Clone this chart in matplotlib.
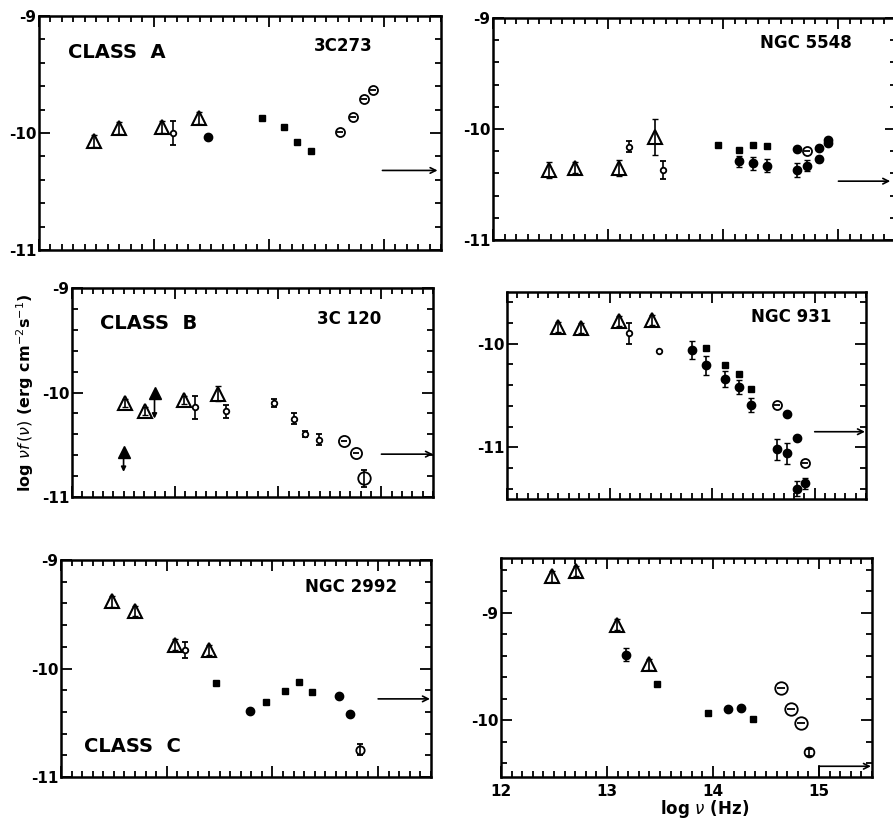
import numpy as np
import matplotlib
matplotlib.use("Agg")
import matplotlib.pyplot as plt
from matplotlib.ticker import MultipleLocator, FixedLocator

# ---- 3C273 (class A)
a_tri_x = [12.48, 12.70, 13.07, 13.39]
a_tri_y = [-10.07, -9.96, -9.95, -9.87]
a_sm_x = [13.17]
a_sm_y = [-10.00]
a_sm_e = [0.10]
a_sq_x = [13.94, 14.13, 14.25, 14.37]
a_sq_y = [-9.87, -9.95, -10.08, -10.15]
a_dot_x = [13.47]
a_dot_y = [-10.03]
a_th_x = [14.62, 14.73, 14.83, 14.91]
a_th_y = [-9.99, -9.86, -9.71, -9.63]
a_arrow = [14.99, 15.47, -10.32]

# ---- NGC 5548
b_tri_x = [12.49, 12.71, 13.09, 13.41]
b_tri_y = [-10.37, -10.35, -10.35, -10.07]
b_tri_e = [0.07, 0.05, 0.07, 0.16]
b_sm_x = [13.18, 13.48]
b_sm_y = [-10.16, -10.37]
b_sm_e = [0.05, 0.08]
b_sq_x = [13.95, 14.14, 14.26, 14.38]
b_sq_y = [-10.14, -10.19, -10.14, -10.15]
b_dote_x = [14.14, 14.26, 14.38, 14.64, 14.73, 14.83]
b_dote_y = [-10.29, -10.31, -10.33, -10.37, -10.33, -10.27]
b_dote_e = [0.05, 0.06, 0.06, 0.06, 0.05, 0.03]
b_dot_x = [14.64, 14.83, 14.91, 14.91]
b_dot_y = [-10.18, -10.17, -10.13, -10.10]
b_th_x = [14.73]
b_th_y = [-10.20]
b_arrow = [15.0, 15.45, -10.47]

# ---- 3C 120 (class B)
c_tri_x = [12.51, 12.71, 13.09, 13.42]
c_tri_y = [-10.10, -10.18, -10.07, -10.01]
c_tri_e = [0.04, 0.04, 0.04, 0.07]
c_lim_x = [12.50, 12.80]
c_lim_y = [-10.57, -10.00]
c_lim_end = [-10.76, -10.25]
c_sm_x = [13.19, 13.49, 13.96, 14.15, 14.26, 14.39]
c_sm_y = [-10.14, -10.18, -10.10, -10.25, -10.40, -10.45]
c_sm_e = [0.11, 0.06, 0.04, 0.05, 0.03, 0.05]
c_th_x = [14.64, 14.75]
c_th_y = [-10.46, -10.58]
c_oc_x = [14.83]
c_oc_y = [-10.82]
c_oc_e = [0.08]
c_arrow = [15.0, 15.5, -10.59]

# ---- NGC 931
d_tri_x = [12.50, 12.72, 13.09, 13.41]
d_tri_y = [-9.84, -9.85, -9.78, -9.77]
d_sm_x = [13.19, 13.48]
d_sm_y = [-9.90, -10.07]
d_sm_e = [0.10, 0.0]
d_sq_x = [13.94, 14.13, 14.26, 14.38]
d_sq_y = [-10.04, -10.21, -10.29, -10.44]
d_dote_x = [13.80, 13.94, 14.13, 14.26, 14.38, 14.63, 14.73, 14.83, 14.91]
d_dote_y = [-10.06, -10.21, -10.34, -10.42, -10.59, -11.02, -11.06, -11.40, -11.35]
d_dote_e = [0.09, 0.09, 0.08, 0.07, 0.07, 0.10, 0.10, 0.07, 0.05]
d_dot_x = [14.73, 14.83]
d_dot_y = [-10.68, -10.91]
d_th_x = [14.63, 14.91]
d_th_y = [-10.59, -11.15]
d_arrow = [15.0, 15.49, -10.85]

# ---- NGC 2992 (class C)
e_tri_x = [12.48, 12.70, 13.08, 13.40]
e_tri_y = [-9.38, -9.47, -9.78, -9.83]
e_sm_x = [13.17]
e_sm_y = [-9.83]
e_sm_e = [0.07]
e_sq_x = [13.47, 13.94, 14.12, 14.25, 14.37]
e_sq_y = [-10.13, -10.31, -10.21, -10.12, -10.22]
e_dot_x = [13.79, 14.63, 14.73]
e_dot_y = [-10.39, -10.25, -10.42]
e_oc_x = [14.83]
e_oc_y = [-10.75]
e_oc_e = [0.05]
e_arrow = [15.0, 15.49, -10.28]

# ---- NGC 7582
f_tri_x = [12.48, 12.71, 13.09, 13.40]
f_tri_y = [-8.66, -8.61, -9.11, -9.48]
f_dote_x = [13.18]
f_dote_y = [-9.39]
f_dote_e = [0.06]
f_sq_x = [13.47, 13.95, 14.38]
f_sq_y = [-9.66, -9.93, -9.99]
f_dot_x = [14.14, 14.26]
f_dot_y = [-9.90, -9.89]
f_th_x = [14.64, 14.74, 14.83]
f_th_y = [-9.70, -9.90, -10.03]
f_oc_x = [14.91]
f_oc_y = [-10.30]
f_oc_e = [0.03]
f_arrow = [15.0, 15.49, -10.43]

W, H = 893, 822
fig = plt.figure(figsize=(W / 100, H / 100), dpi=100)

def make_ax(l, t, r, b, ylim, yticks):
    ax = fig.add_axes([l / W, 1 - b / H, (r - l) / W, (b - t) / H])
    ax.set_xlim(12, 15.5)
    ax.set_ylim(*ylim)
    ax.xaxis.set_major_locator(MultipleLocator(1))
    ax.xaxis.set_minor_locator(MultipleLocator(0.1))
    ax.yaxis.set_major_locator(FixedLocator(yticks))
    ax.yaxis.set_minor_locator(MultipleLocator(0.2))
    ax.tick_params(which="both", direction="in", top=True, right=True, width=1.3)
    ax.tick_params(which="major", length=8, labelsize=11, pad=2)
    ax.tick_params(which="minor", length=4)
    ax.set_xticklabels([])
    ax.set_yticklabels(["%d" % v for v in yticks], fontweight="bold")
    for s in ax.spines.values():
        s.set_linewidth(1.8)
    return ax

def tri(ax, x, y, e=None):
    if e is None:
        e = [0.05] * len(x)
    ax.errorbar(x, y, yerr=e, fmt="none", ecolor="k", elinewidth=1.2, capsize=2)
    ax.plot(x, y, "^", ms=9.5, mfc="none", mec="k", mew=1.5)

def small(ax, x, y, e):
    ax.errorbar(x, y, yerr=e, fmt="o", ms=4, mfc="white", mec="k", mew=1.3,
                ecolor="k", elinewidth=1.2, capsize=2)

def squares(ax, x, y):
    ax.plot(x, y, "s", ms=5, color="k")

def dots(ax, x, y, e=None):
    if e is not None:
        ax.errorbar(x, y, yerr=e, fmt="none", ecolor="k", elinewidth=1.2, capsize=2)
    ax.plot(x, y, "o", ms=6, color="k")

def theta(ax, x, y, ms=6.5):
    ax.plot(x, y, "o", ms=ms, mfc="white", mec="k", mew=1.3)
    ax.plot(x, y, "_", ms=ms * 0.6, color="k", mew=1.3)

def opencirc(ax, x, y, e, ms=8):
    ax.errorbar(x, y, yerr=e, fmt="o", ms=ms, mfc="none", mec="k", mew=1.3,
                ecolor="k", elinewidth=1.2, capsize=2)

def arrow(ax, a):
    ax.annotate("", xy=(a[1], a[2]), xytext=(a[0], a[2]),
                arrowprops=dict(arrowstyle="->", lw=1.2, color="k",
                                shrinkA=0, shrinkB=0))

lab = dict(fontsize=14, fontweight="bold", family="DejaVu Sans")
name = dict(fontsize=12, fontweight="bold", family="DejaVu Sans")

# 3C273
ax1 = make_ax(39, 16, 441, 250, (-11, -9), [-11, -10, -9])
tri(ax1, a_tri_x, a_tri_y)
small(ax1, a_sm_x, a_sm_y, a_sm_e)
squares(ax1, a_sq_x, a_sq_y)
dots(ax1, a_dot_x, a_dot_y)
theta(ax1, a_th_x, a_th_y)
arrow(ax1, a_arrow)
ax1.text(0.072, 0.846, "CLASS  A", transform=ax1.transAxes, va="center", **lab)
ax1.text(0.683, 0.873, "3C273", transform=ax1.transAxes, va="center", **name)

# NGC 5548
ax2 = make_ax(493, 18, 896, 240, (-11, -9), [-11, -10, -9])
tri(ax2, b_tri_x, b_tri_y, b_tri_e)
small(ax2, b_sm_x, b_sm_y, b_sm_e)
squares(ax2, b_sq_x, b_sq_y)
dots(ax2, b_dote_x, b_dote_y, b_dote_e)
dots(ax2, b_dot_x, b_dot_y)
theta(ax2, b_th_x, b_th_y)
arrow(ax2, b_arrow)
ax2.text(0.663, 0.886, "NGC 5548", transform=ax2.transAxes, va="center", **name)

# 3C 120
ax3 = make_ax(72, 288, 433, 497, (-11, -9), [-11, -10, -9])
tri(ax3, c_tri_x, c_tri_y, c_tri_e)
for x0, y0, y1 in zip(c_lim_x, c_lim_y, c_lim_end):
    ax3.annotate("", xy=(x0, y1), xytext=(x0, y0),
                 arrowprops=dict(arrowstyle="-|>", lw=1.2, color="k",
                                 mutation_scale=7, shrinkA=0, shrinkB=0))
ax3.plot(c_lim_x, c_lim_y, "^", ms=8, color="k")
small(ax3, c_sm_x, c_sm_y, c_sm_e)
theta(ax3, c_th_x, c_th_y, ms=8)
opencirc(ax3, c_oc_x, c_oc_y, c_oc_e, ms=9)
arrow(ax3, c_arrow)
ax3.text(0.078, 0.831, "CLASS  B", transform=ax3.transAxes, va="center", **lab)
ax3.text(0.678, 0.850, "3C 120", transform=ax3.transAxes, va="center", **name)
ax3.set_ylabel(r"log $\nu f\,(\nu)$ (erg cm$^{-2}$s$^{-1}$)", fontsize=11.5,
               fontweight="bold", labelpad=4)

# NGC 931
ax4 = make_ax(507, 292, 866, 499, (-11.5, -9.5), [-11, -10])
tri(ax4, d_tri_x, d_tri_y)
small(ax4, d_sm_x, d_sm_y, d_sm_e)
squares(ax4, d_sq_x, d_sq_y)
dots(ax4, d_dote_x, d_dote_y, d_dote_e)
dots(ax4, d_dot_x, d_dot_y)
theta(ax4, d_th_x, d_th_y)
arrow(ax4, d_arrow)
ax4.text(0.681, 0.881, "NGC 931", transform=ax4.transAxes, va="center", **name)

# NGC 2992
ax5 = make_ax(61, 560, 431, 777, (-11, -9), [-11, -10, -9])
tri(ax5, e_tri_x, e_tri_y)
small(ax5, e_sm_x, e_sm_y, e_sm_e)
squares(ax5, e_sq_x, e_sq_y)
dots(ax5, e_dot_x, e_dot_y)
opencirc(ax5, e_oc_x, e_oc_y, e_oc_e, ms=6)
arrow(ax5, e_arrow)
ax5.text(0.660, 0.877, "NGC 2992", transform=ax5.transAxes, va="center", **name)
ax5.text(0.061, 0.140, "CLASS  C", transform=ax5.transAxes, va="center", **lab)

# NGC 7582
ax6 = make_ax(501, 558, 872, 777, (-10.53, -8.49), [-10, -9])
tri(ax6, f_tri_x, f_tri_y)
dots(ax6, f_dote_x, f_dote_y, f_dote_e)
squares(ax6, f_sq_x, f_sq_y)
dots(ax6, f_dot_x, f_dot_y)
theta(ax6, f_th_x, f_th_y, ms=9)
opencirc(ax6, f_oc_x, f_oc_y, f_oc_e, ms=7)
ax6.plot([f_arrow[0], f_arrow[0]], [-10.53, f_arrow[2]], color="k", lw=1.2)
arrow(ax6, f_arrow)
ax6.set_xticks([12, 13, 14, 15])
ax6.set_xticklabels(["12", "13", "14", "15"], fontweight="bold", fontsize=11)
ax6.tick_params(axis="x", pad=5)
fig.text(705 / W, 1 - 809 / H, r"log $\nu$ (Hz)", ha="center", va="center",
         fontsize=12, fontweight="bold")

fig.savefig("out.png", dpi=100)
